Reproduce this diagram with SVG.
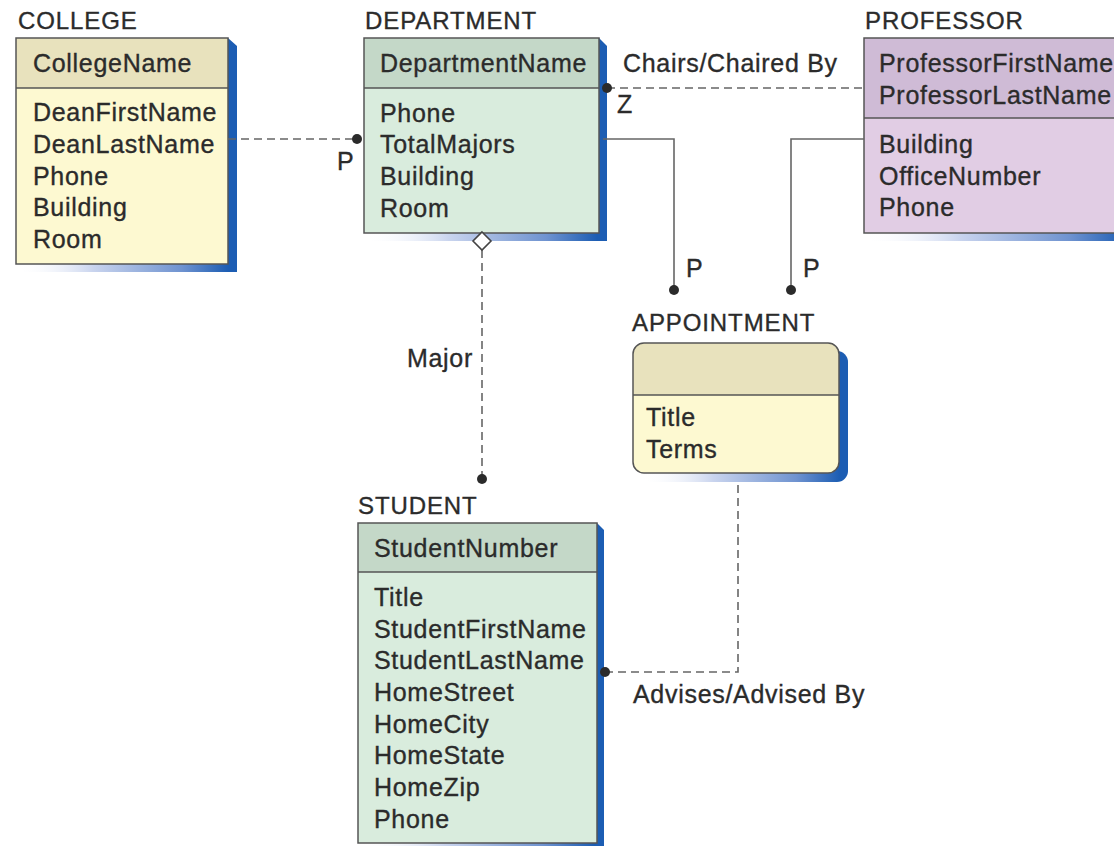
<svg xmlns="http://www.w3.org/2000/svg" width="1114" height="846" viewBox="0 0 1114 846">
<defs>
<linearGradient id="shd" x1="0" y1="0" x2="1" y2="0">
<stop offset="0" stop-color="#ffffff" stop-opacity="0"/>
<stop offset="0.35" stop-color="#c9d4ee"/>
<stop offset="0.75" stop-color="#6f93d0"/>
<stop offset="0.96" stop-color="#1c5db3"/>
<stop offset="1" stop-color="#1c5db3"/>
</linearGradient>
<style>
text{font-family:"Liberation Sans",Arial,Helvetica,sans-serif;fill:#2b2b2b;stroke:#2b2b2b;stroke-width:0.35px;letter-spacing:0.7px}
.t{font-size:24px;letter-spacing:0.9px}
.a{font-size:25px}
.div{stroke:#555;stroke-width:1.5}
.frame{fill:none;stroke:#555;stroke-width:1.5}
.shadow{fill:url(#shd)}
.dash{fill:none;stroke:#666;stroke-width:1.6;stroke-dasharray:8 5}
.solid{fill:none;stroke:#666;stroke-width:1.6}
.dot{fill:#2b2b2b}
.yh{fill:#e8e2bd}.yb{fill:#fdf9d1}
.gh{fill:#c4d8c8}.gb{fill:#d9ecdd}
.ph{fill:#cfbbd6}.pb{fill:#e1cde4}
</style>
</defs>

<g id="college">
<text class="t" x="18" y="29">COLLEGE</text>
<polygon class="shadow" points="228,38 237,46 237,272 24,272 16,264"/>
<rect class="yb" x="16" y="38" width="212" height="226"/>
<rect class="yh" x="16" y="38" width="212" height="50"/>
<line class="div" x1="16" y1="88" x2="228" y2="88"/>
<rect class="frame" x="16" y="38" width="212" height="226"/>
<text class="a" x="33" y="72">CollegeName</text>
<text class="a" x="33" y="121">DeanFirstName</text>
<text class="a" x="33" y="153">DeanLastName</text>
<text class="a" x="33" y="185">Phone</text>
<text class="a" x="33" y="216">Building</text>
<text class="a" x="33" y="248">Room</text>
</g>

<g id="department">
<text class="t" x="365" y="29">DEPARTMENT</text>
<polygon class="shadow" points="599,38 607,46 607,241 372,241 364,233"/>
<rect class="gb" x="364" y="38" width="235" height="195"/>
<rect class="gh" x="364" y="38" width="235" height="50"/>
<line class="div" x1="364" y1="88" x2="599" y2="88"/>
<rect class="frame" x="364" y="38" width="235" height="195"/>
<text class="a" x="380" y="72">DepartmentName</text>
<text class="a" x="380" y="122">Phone</text>
<text class="a" x="380" y="153">TotalMajors</text>
<text class="a" x="380" y="185">Building</text>
<text class="a" x="380" y="217">Room</text>
</g>

<g id="professor">
<text class="t" x="865" y="29">PROFESSOR</text>
<polygon class="shadow" points="1130,38 1138,46 1138,241 872,241 864,233"/>
<rect class="pb" x="864" y="38" width="266" height="195"/>
<rect class="ph" x="864" y="38" width="266" height="80"/>
<line class="div" x1="864" y1="118" x2="1130" y2="118"/>
<rect class="frame" x="864" y="38" width="266" height="195"/>
<text class="a" x="879" y="72">ProfessorFirstName</text>
<text class="a" x="879" y="104">ProfessorLastName</text>
<text class="a" x="879" y="153">Building</text>
<text class="a" x="879" y="185">OfficeNumber</text>
<text class="a" x="879" y="216">Phone</text>
</g>

<g id="appointment">
<text class="t" x="632" y="331">APPOINTMENT</text>
<rect class="shadow" x="641" y="351" width="207" height="131" rx="11"/>
<rect class="yb" x="633" y="343" width="206" height="130" rx="11"/>
<path class="yh" d="M633,395 V354 A11,11 0 0 1 644,343 H828 A11,11 0 0 1 839,354 V395 Z"/>
<line class="div" x1="633" y1="395" x2="839" y2="395"/>
<rect class="frame" x="633" y="343" width="206" height="130" rx="11"/>
<text class="a" x="646" y="426">Title</text>
<text class="a" x="646" y="458">Terms</text>
</g>

<g id="student">
<text class="t" x="358" y="514">STUDENT</text>
<polygon class="shadow" points="597,523 604,530 604,852 366,852 358,843"/>
<rect class="gb" x="358" y="523" width="239" height="320"/>
<rect class="gh" x="358" y="523" width="239" height="49"/>
<line class="div" x1="358" y1="572" x2="597" y2="572"/>
<rect class="frame" x="358" y="523" width="239" height="320"/>
<text class="a" x="374" y="557">StudentNumber</text>
<text class="a" x="374" y="606">Title</text>
<text class="a" x="374" y="638">StudentFirstName</text>
<text class="a" x="374" y="669">StudentLastName</text>
<text class="a" x="374" y="701">HomeStreet</text>
<text class="a" x="374" y="733">HomeCity</text>
<text class="a" x="374" y="764">HomeState</text>
<text class="a" x="374" y="796">HomeZip</text>
<text class="a" x="374" y="828">Phone</text>
</g>

<g id="connectors">
<line class="dash" x1="228" y1="139" x2="357" y2="139"/>
<circle class="dot" cx="357" cy="139" r="5"/>
<text class="a" x="337" y="170">P</text>

<line class="dash" x1="607" y1="88" x2="864" y2="88"/>
<circle class="dot" cx="607" cy="88" r="5"/>
<text class="a" x="617" y="113">Z</text>
<text class="a" x="623" y="72">Chairs/Chaired By</text>

<polyline class="solid" points="603,139 674,139 674,290"/>
<circle class="dot" cx="674" cy="290" r="5"/>
<text class="a" x="686" y="277">P</text>

<polyline class="solid" points="864,139 791,139 791,290"/>
<circle class="dot" cx="791" cy="290" r="5"/>
<text class="a" x="803" y="277">P</text>

<line class="dash" x1="482" y1="250" x2="482" y2="479"/>
<polygon points="482,232 491,241 482,250 473,241" fill="#ffffff" stroke="#444" stroke-width="1.6"/>
<circle class="dot" cx="482" cy="479" r="5"/>
<text class="a" x="473" y="367" text-anchor="end">Major</text>

<polyline class="dash" points="605,672 738,672 738,482"/>
<circle class="dot" cx="605" cy="672" r="5"/>
<text class="a" x="633" y="703">Advises/Advised By</text>
</g>
</svg>
